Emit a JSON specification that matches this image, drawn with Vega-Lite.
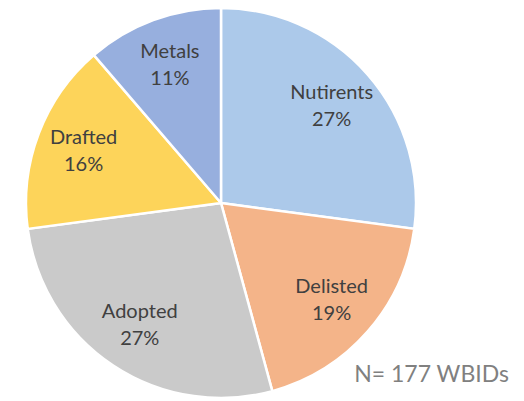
{
  "$schema": "https://vega.github.io/schema/vega-lite/v6.json",
  "width": 442,
  "height": 406,
  "autosize": {"type": "none"},
  "padding": {"left": 0, "top": 0, "right": 82, "bottom": 0},
  "background": "white",
  "view": {"stroke": null},
  "title": {
    "text": "N= 177 WBIDs",
    "orient": "bottom",
    "anchor": "end",
    "font": "Lato",
    "fontSize": 23,
    "fontWeight": "normal",
    "color": "#808080",
    "dx": 67,
    "dy": -42,
    "offset": 0
  },
  "data": {
    "values": [
      {"category": "Nutirents", "count": 48, "pct": "27%", "order": 1},
      {"category": "Delisted", "count": 33, "pct": "19%", "order": 2},
      {"category": "Adopted", "count": 48, "pct": "27%", "order": 3},
      {"category": "Drafted", "count": 28, "pct": "16%", "order": 4},
      {"category": "Metals", "count": 20, "pct": "11%", "order": 5}
    ]
  },
  "encoding": {
    "theta": {"field": "count", "type": "quantitative", "stack": true},
    "order": {"field": "order", "type": "quantitative"}
  },
  "layer": [
    {
      "mark": {"type": "arc", "outerRadius": 195, "stroke": "white", "strokeWidth": 2.5},
      "encoding": {
        "color": {
          "field": "category",
          "type": "nominal",
          "scale": {
            "domain": ["Nutirents", "Delisted", "Adopted", "Drafted", "Metals"],
            "range": ["#acc9ea", "#f4b489", "#cacaca", "#fdd45a", "#97afde"]
          },
          "legend": null
        }
      }
    },
    {
      "mark": {"type": "text", "radius": 147, "font": "Lato", "fontSize": 20, "color": "#404040", "dy": -13},
      "encoding": {"text": {"field": "category", "type": "nominal"}}
    },
    {
      "mark": {"type": "text", "radius": 147, "font": "Lato", "fontSize": 20, "color": "#404040", "dy": 14},
      "encoding": {"text": {"field": "pct", "type": "nominal"}}
    }
  ]
}
